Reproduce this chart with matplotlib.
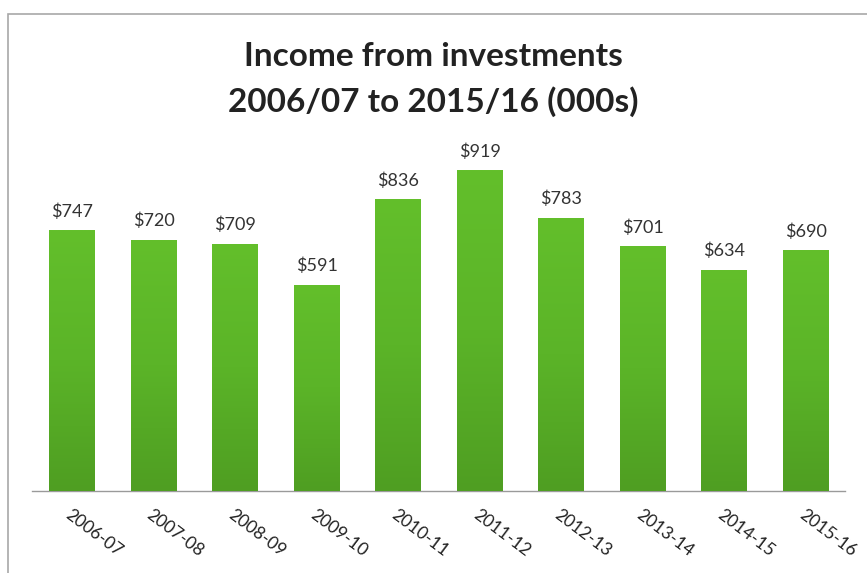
import numpy as np
import matplotlib.pyplot as plt
from matplotlib.patches import Rectangle
from matplotlib.colors import LinearSegmentedColormap

# income from investments, thousands of dollars
years = ["2006-07", "2007-08", "2008-09", "2009-10", "2010-11",
         "2011-12", "2012-13", "2013-14", "2014-15", "2015-16"]
income = [747, 720, 709, 591, 836, 919, 783, 701, 634, 690]

plt.rcParams['font.family'] = ['Lato', 'DejaVu Sans']

fig = plt.figure(figsize=(8.67, 5.73), dpi=100)
W, H = 867, 573
ax = fig.add_axes([32 / W, 1 - 491 / H, (845 - 32) / W, (491 - 142) / H])

x = np.arange(len(years))
bars = ax.bar(x, income, width=0.56, color="#5cb527", zorder=2)

# vertical gradient inside each bar, a little darker at the base
cmap = LinearSegmentedColormap.from_list("grn", ["#4f9e22", "#5bb428", "#63bf2b"])
grad = np.linspace(0, 1, 256).reshape(-1, 1)
for b in bars:
    x0, w, h = b.get_x(), b.get_width(), b.get_height()
    im = ax.imshow(grad, cmap=cmap, origin="lower", aspect="auto",
                   extent=[x0, x0 + w, 0, h], zorder=3)
    im.set_clip_path(b)

for xi, v in zip(x, income):
    ax.text(xi, v + 30, f"${v}", ha="center", va="bottom",
            fontsize=13, color="#333333", zorder=4)

ax.set_xlim(-0.49, len(years) - 1 + 0.48)
ax.set_ylim(0, 1000)
ax.set_yticks([])
ax.set_xticks(x)
ax.set_xticklabels(years, rotation=-37, ha="left", va="top",
                   rotation_mode="anchor", fontsize=12.5, color="#222222")
ax.tick_params(axis="x", length=0, pad=11)
for s in ["top", "right", "left"]:
    ax.spines[s].set_visible(False)
ax.spines["bottom"].set_color("#9a9a9a")
ax.spines["bottom"].set_linewidth(1.0)

fig.text(0.5, 1 - 57 / H, "Income from investments", ha="center", va="center",
         fontsize=24, fontweight="bold", color="#222222")
fig.text(0.5, 1 - 102 / H, "2006/07 to 2015/16 (000s)", ha="center", va="center",
         fontsize=24, fontweight="bold", color="#222222")

# outer chart frame
fig.patches.append(Rectangle((8 / W, -0.01), 1.0, 1 - 14 / H + 0.01,
                             transform=fig.transFigure, fill=False,
                             edgecolor="#a8a8a8", linewidth=1.2))

fig.savefig("out.png", dpi=100)
